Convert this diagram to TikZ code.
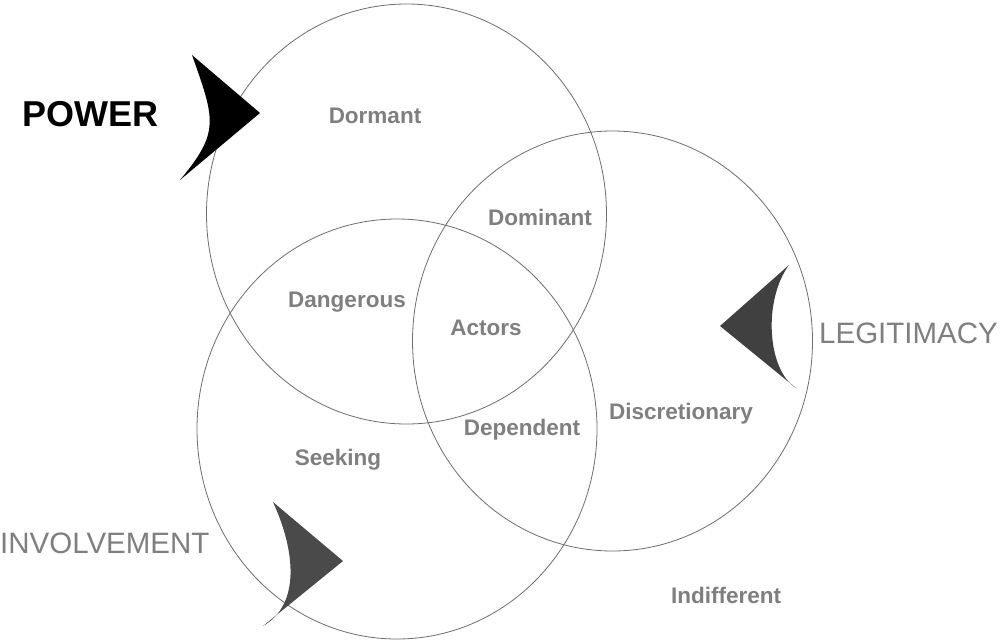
\documentclass[tikz,border=0pt]{standalone}
\usepackage{fontspec}
\setmainfont{Liberation Sans}
\usetikzlibrary{shapes.geometric}
\definecolor{lbl}{HTML}{7F7F7F}
\definecolor{ring}{HTML}{6E6E6E}
\definecolor{darta}{HTML}{000000}
\definecolor{dartb}{HTML}{404040}
\definecolor{dartc}{HTML}{4A4A4A}
\begin{document}
\begin{tikzpicture}[x=1pt,y=-1pt,
  setring/.style={ellipse,draw=ring,line width=0.8pt,minimum width=400pt,minimum height=420pt,inner sep=0pt},
  region/.style={text=lbl,font=\fontsize{22.5}{26}\selectfont\bfseries,anchor=base,inner sep=0pt},
  bigname/.style={font=\fontsize{29.5}{34}\selectfont,anchor=base west,inner sep=0pt}]
\useasboundingbox (0,0) rectangle (1001,641);
\fill[white] (0,0) rectangle (1001,641);
% sets
\node[setring] (powerset) at (406.5,214) {};
\node[setring] (legitset) at (612.5,341) {};
\node[setring] (involset) at (397,429) {};
% darts
\fill[darta] (192,55) -- (260,113) -- (180,180) .. controls (220,132) and (215,120) .. (192,55);
\fill[dartb] (789,265) -- (720,326) -- (796,388) .. controls (767,370) and (763,300) .. (789,265);
\fill[dartc] (273,502) -- (343,561) -- (263,626) .. controls (300,605) and (296,552) .. (273,502);
% region labels
\node[region] (dormant) at (375,123) {Dormant};
\node[region] (dominant) at (540,225) {Dominant};
\node[region] (dangerous) at (347,307) {Dangerous};
\node[region] (actors) at (486,335) {Actors};
\node[region] (dependent) at (522,435) {Dependent};
\node[region] (discretionary) at (681,419) {Discretionary};
\node[region] (seeking) at (338,465) {Seeking};
\node[region] (indifferent) at (726,603) {Indifferent};
% set names
\node[bigname,font=\fontsize{36}{40}\selectfont\bfseries,text=black] (power) at (22,126) {POWER};
\node[bigname,text=lbl] (legitimacy) at (819,343) {LEGITIMACY};
\node[bigname,text=lbl] (involvement) at (0,553) {INVOLVEMENT};
\end{tikzpicture}
\end{document}
